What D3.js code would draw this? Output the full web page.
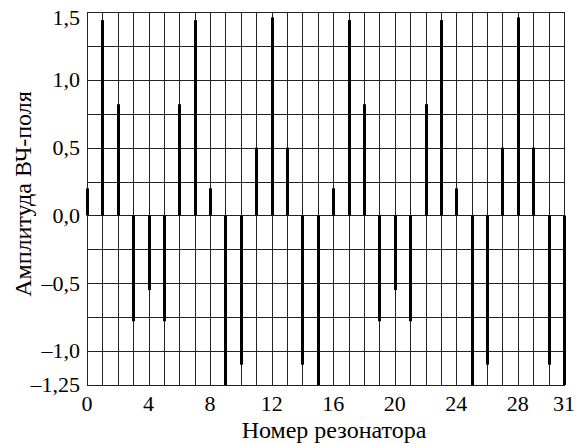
<!DOCTYPE html>
<html>
<head>
<meta charset="utf-8">
<script src="https://cdn.jsdelivr.net/npm/d3@7"></script>
<style>
  body { margin: 0; background: #fff; }
  svg text { font-family: "Liberation Serif", "Times New Roman", serif; fill: #000; }
</style>
</head>
<body>
<script>
// resonator numbers and RF field amplitude
const resonators = d3.range(0, 32);
const amplitudes = [
  0.2, 1.44, 0.82, -0.78, -0.55, -0.78, 0.82, 1.44,
  0.2, -1.25, -1.1, 0.5, 1.46, 0.5, -1.1, -1.25,
  0.2, 1.44, 0.82, -0.78, -0.55, -0.78, 0.82, 1.44,
  0.2, -1.25, -1.1, 0.5, 1.46, 0.5, -1.1, -1.25
];
const xTicks = [0, 4, 8, 12, 16, 20, 24, 28, 31];
const yTicks = [1.5, 1.0, 0.5, 0.0, -0.5, -1.0, -1.25];
const yGrid = [1.5, 1.25, 1.0, 0.75, 0.5, 0.25, 0, -0.25, -0.5, -0.75, -1.0, -1.25];
const xTitle = "Номер резонатора";
const yTitle = "Амплитуда ВЧ-поля";

const width = 581;
const height = 444;
const margin = { top: 12, right: 17, bottom: 59, left: 87 };

const svg = d3.select("body").append("svg")
  .attr("width", width)
  .attr("height", height);

const x = d3.scaleLinear()
  .domain([0, 31])
  .range([margin.left, width - margin.right]);

const y = d3.scaleLinear()
  .domain([-1.25, 1.5])
  .range([height - margin.bottom, margin.top]);

const fmt = v => (v < 0 ? "\u2013" : "") +
  (Math.abs(v) === 1.25 ? "1,25" : Math.abs(v).toFixed(1).replace(".", ","));

// grid
svg.append("g")
  .attr("stroke", "#222")
  .attr("stroke-width", 1)
  .selectAll("line")
  .data(resonators)
  .join("line")
  .attr("x1", d => Math.round(x(d)) + 0.5)
  .attr("x2", d => Math.round(x(d)) + 0.5)
  .attr("y1", y(1.5))
  .attr("y2", y(-1.25));

svg.append("g")
  .attr("stroke", "#222")
  .attr("stroke-width", 1)
  .selectAll("line")
  .data(yGrid)
  .join("line")
  .attr("x1", x(0))
  .attr("x2", x(31) + 1)
  .attr("y1", d => Math.round(y(d)) + 0.5)
  .attr("y2", d => Math.round(y(d)) + 0.5);

// bars
svg.append("g")
  .attr("fill", "#000")
  .selectAll("rect")
  .data(amplitudes)
  .join("rect")
  .attr("x", (d, i) => Math.round(x(resonators[i])) - 1)
  .attr("width", 3)
  .attr("y", d => y(Math.max(0, d)))
  .attr("height", d => Math.abs(y(d) - y(0)));

// tick labels
svg.append("g")
  .attr("font-size", 22)
  .attr("text-anchor", "end")
  .selectAll("text")
  .data(yTicks)
  .join("text")
  .attr("x", margin.left - 7)
  .attr("y", d => y(d))
  .attr("dy", d => d === 1.5 ? "0.6em" : "0.33em")
  .text(fmt);

svg.append("g")
  .attr("font-size", 22)
  .attr("text-anchor", "middle")
  .selectAll("text")
  .data(xTicks)
  .join("text")
  .attr("x", d => x(d))
  .attr("y", 411)
  .text(d => d);

// axis titles
svg.append("text")
  .attr("x", 334)
  .attr("y", 438)
  .attr("font-size", 24)
  .attr("text-anchor", "middle")
  .text(xTitle);

svg.append("text")
  .attr("transform", "translate(31,194) rotate(-90)")
  .attr("font-size", 24)
  .attr("text-anchor", "middle")
  .text(yTitle);
</script>
</body>
</html>
